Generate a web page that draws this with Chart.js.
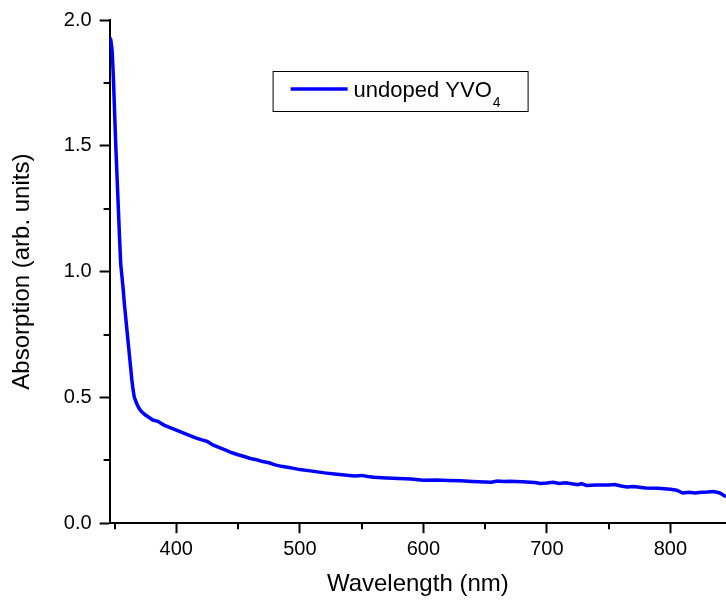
<!DOCTYPE html>
<html>
<head>
<meta charset="utf-8">
<script src="https://cdn.jsdelivr.net/npm/chart.js@4"></script>
<style>
  html, body { margin: 0; padding: 0; background: #fff; }
  #wrap { width: 726px; height: 600px; }
</style>
</head>
<body>
<div id="wrap"><canvas id="AbsChart"></canvas></div>
<script>
// wavelength (nm) and absorption
var wavelengths = [346, 347, 348, 349, 350, 351, 352, 353, 354, 355, 356, 357, 358, 359, 360,
    361, 362, 363, 364, 365, 366, 368, 370, 372, 375, 378, 381, 385, 390, 395,
    400, 405, 410, 415, 420, 425, 430, 435, 440, 445, 450, 455, 460, 465, 470,
    475, 480, 485, 490, 495, 500, 510, 520, 530, 540, 545, 550, 555, 560, 570,
    580, 590, 600, 610, 620, 630, 640, 650, 655, 660, 665, 670, 680, 690, 695,
    700, 705, 710, 715, 720, 725, 728, 732, 740, 750, 755, 760, 765, 770, 780,
    790, 800, 805, 810, 815, 820, 825, 830, 835, 840, 845];
var absorption = [1.93, 1.92, 1.88, 1.78, 1.64, 1.50, 1.38, 1.26, 1.14, 1.03, 0.98, 0.93, 0.87, 0.82, 0.77,
    0.72, 0.67, 0.62, 0.57, 0.53, 0.50, 0.475, 0.455, 0.443, 0.43, 0.42, 0.41, 0.405, 0.39, 0.38,
    0.37, 0.36, 0.35, 0.34, 0.332, 0.325, 0.31, 0.30, 0.29, 0.28, 0.272, 0.265, 0.257, 0.252, 0.245,
    0.24, 0.232, 0.226, 0.222, 0.218, 0.213, 0.207, 0.20, 0.195, 0.19, 0.188, 0.19, 0.186, 0.183, 0.18,
    0.178, 0.176, 0.171, 0.172, 0.17, 0.169, 0.166, 0.164, 0.163, 0.168, 0.166, 0.167, 0.165, 0.162, 0.158,
    0.16, 0.163, 0.158, 0.161, 0.157, 0.153, 0.157, 0.15, 0.152, 0.152, 0.154, 0.148, 0.144, 0.146, 0.14,
    0.139, 0.135, 0.131, 0.12, 0.123, 0.12, 0.123, 0.124, 0.126, 0.12, 0.105];

var xMajorTicks = [400, 500, 600, 700, 800];
var xMinorTicks = [350, 450, 550, 650, 750];
var yMajorTicks = [0.0, 0.5, 1.0, 1.5, 2.0];
var yMinorTicks = [0.25, 0.75, 1.25, 1.75];

var seriesLabel = 'undoped YVO';
var seriesSub = '4';

var fontFam = '"Liberation Sans", Arial, sans-serif';

var points = wavelengths.map(function (w, i) { return { x: w, y: absorption[i] }; });

// short minor ticks + boxed legend with subscript
var extras = {
    id: 'extras',
    afterDraw: function (chart) {
        var ctx = chart.ctx;
        var xs = chart.scales.x, ys = chart.scales.y;
        var area = chart.chartArea;
        ctx.save();
        ctx.strokeStyle = '#000';
        ctx.lineWidth = 2;
        xMinorTicks.forEach(function (v) {
            var px = Math.round(xs.getPixelForValue(v));
            ctx.beginPath();
            ctx.moveTo(px, area.bottom);
            ctx.lineTo(px, area.bottom + 6);
            ctx.stroke();
        });
        yMinorTicks.forEach(function (v) {
            var py = Math.round(ys.getPixelForValue(v));
            ctx.beginPath();
            ctx.moveTo(area.left, py);
            ctx.lineTo(area.left - 6, py);
            ctx.stroke();
        });

        // legend box
        var bx = area.left + 163, by = area.top + 51, bw = 255, bh = 40;
        ctx.fillStyle = '#fff';
        ctx.fillRect(bx, by, bw, bh);
        ctx.strokeStyle = '#000';
        ctx.lineWidth = 1;
        ctx.strokeRect(bx + 0.5, by + 0.5, bw, bh);
        ctx.strokeStyle = 'rgb(0,0,255)';
        ctx.lineWidth = 3.5;
        ctx.beginPath();
        ctx.moveTo(bx + 18, by + 18);
        ctx.lineTo(bx + 75, by + 18);
        ctx.stroke();
        ctx.fillStyle = '#000';
        ctx.font = '22px ' + fontFam;
        ctx.textBaseline = 'alphabetic';
        ctx.fillText(seriesLabel, bx + 81, by + 26);
        var w = ctx.measureText(seriesLabel).width;
        ctx.font = '14px ' + fontFam;
        ctx.fillText(seriesSub, bx + 81 + w + 1, by + 36);
        ctx.restore();
    }
};

var ctx = document.getElementById('AbsChart').getContext('2d');
var absChart = new Chart(ctx, {
    type: 'line',
    data: {
        datasets: [{
            label: seriesLabel + seriesSub,
            data: points,
            borderColor: 'rgb(0, 0, 255)',
            borderWidth: 3.5,
            pointRadius: 0,
            tension: 0,
            fill: false
        }]
    },
    options: {
        responsive: true,
        maintainAspectRatio: false,
        animation: false,
        layout: { padding: { top: 12, right: 0, left: 8, bottom: 1 } },
        plugins: {
            legend: { display: false },
            tooltip: { enabled: false }
        },
        scales: {
            x: {
                type: 'linear',
                min: 346,
                max: 845,
                afterBuildTicks: function (scale) {
                    scale.ticks = xMajorTicks.map(function (v) { return { value: v }; });
                },
                grid: {
                    drawOnChartArea: false,
                    tickLength: 10,
                    tickWidth: 2,
                    tickColor: '#000'
                },
                border: { color: '#000', width: 2 },
                ticks: {
                    color: '#000',
                    padding: 4,
                    maxRotation: 0,
                    font: { family: fontFam, size: 20 },
                    callback: function (v) { return v; }
                },
                title: {
                    display: true,
                    text: 'Wavelength (nm)',
                    color: '#000',
                    padding: { top: 5, bottom: 0 },
                    font: { family: fontFam, size: 24 }
                }
            },
            y: {
                min: 0,
                max: 2.0,
                afterBuildTicks: function (scale) {
                    scale.ticks = yMajorTicks.map(function (v) { return { value: v }; });
                },
                grid: {
                    drawOnChartArea: false,
                    tickLength: 10,
                    tickWidth: 2,
                    tickColor: '#000'
                },
                border: { color: '#000', width: 2 },
                ticks: {
                    color: '#000',
                    padding: 8,
                    font: { family: fontFam, size: 20 },
                    callback: function (v) { return Number(v).toFixed(1); }
                },
                title: {
                    display: true,
                    text: 'Absorption (arb. units)',
                    color: '#000',
                    padding: { top: 0, bottom: 19 },
                    font: { family: fontFam, size: 24 }
                }
            }
        }
    },
    plugins: [extras]
});
</script>
</body>
</html>
